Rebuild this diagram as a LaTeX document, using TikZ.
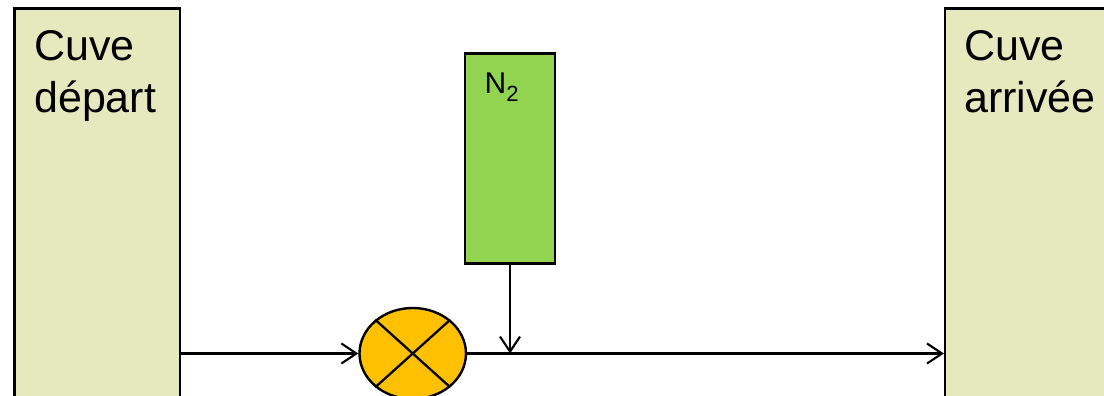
\documentclass[tikz,border=0pt]{standalone}
\usepackage{fontspec}
\setmainfont{Liberation Sans}
\usetikzlibrary{arrows.meta,shapes.geometric}
\definecolor{tankfill}{HTML}{E6E9BE}
\definecolor{gasfill}{HTML}{92D450}
\definecolor{valvefill}{HTML}{FFC000}
\tikzset{
  x=1pt,y=-1pt,
  tank/.style={draw=black,line width=2.2pt,fill=tankfill,rectangle,inner sep=0pt,minimum height=690pt},
  gas/.style={draw=black,line width=2.2pt,fill=gasfill,rectangle,inner sep=0pt,minimum width=90.5pt,minimum height=210pt},
  valve/.style={draw=black,line width=2.4pt,fill=valvefill,ellipse,inner sep=0pt,minimum width=106.5pt,minimum height=91pt},
  flow/.style={draw=black,line width=2.1pt,-{Straight Barb[length=15pt,width=20pt,line width=2.1pt]}},
  crossline/.style={draw=black,line width=2.3pt},
  bigtext/.style={align=left,anchor=north west,inner sep=0pt,font=\fontsize{43}{51.5}\selectfont},
  smalltext/.style={anchor=base west,inner sep=0pt,font=\fontsize{30}{36}\selectfont}
}
\begin{document}
\begin{tikzpicture}
\useasboundingbox (0,0) rectangle (1104,396);
\clip (0,0) rectangle (1104,396);
\node[tank,minimum width=165.5pt] (depart) at (97.25,353.5) {};
\node[tank,minimum width=300pt] (arrivee) at (1095,353.5) {};
\node[gas] (azote) at (510,158.5) {};
\node[valve] (vanne) at (412.75,353.5) {};
\coordinate (jonction) at (510,353.5);
\node[bigtext] (tdepart) at (34,30.5) {Cuve\\départ};
\node[bigtext] (tarrivee) at (964,30.5) {Cuve\\arrivée};
\node[smalltext] (tazote) at (484.5,94) {N\raisebox{-8pt}{\fontsize{22}{26}\selectfont 2}};
\draw[crossline] (vanne.42) -- (vanne.222);
\draw[crossline] (vanne.138) -- (vanne.318);
\draw[flow] (depart.east) -- (vanne.west);
\draw[flow] (vanne.east) -- (arrivee.west);
\draw[flow] (azote.south) -- (jonction);
\end{tikzpicture}
\end{document}
